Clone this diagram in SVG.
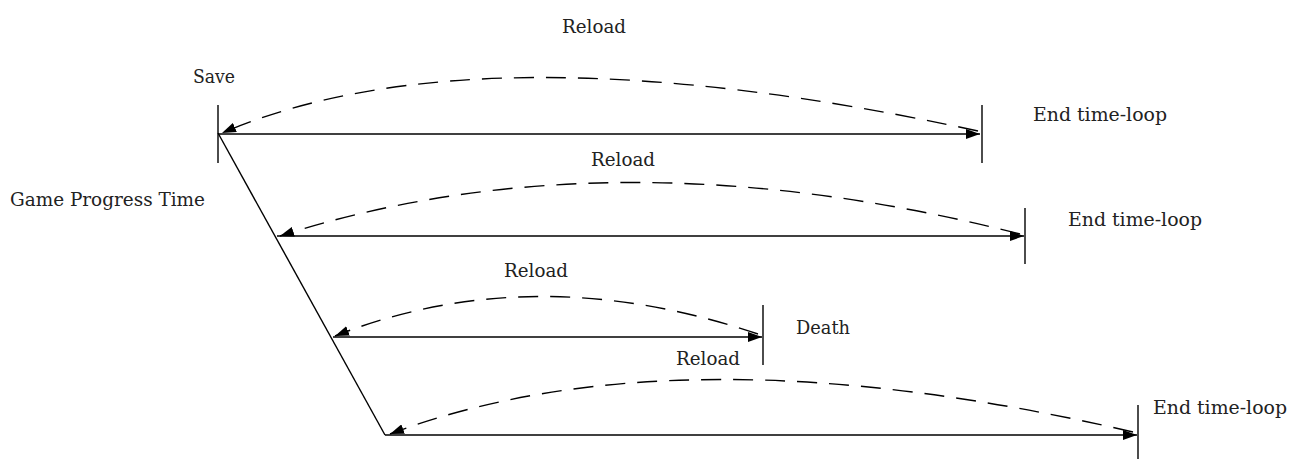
<svg xmlns="http://www.w3.org/2000/svg" width="1297" height="459" viewBox="0 0 1297 459">
<style>
.t{font-family:"DejaVu Serif","Liberation Serif",serif;font-size:18px;fill:#222}
.s{stroke:#000;stroke-width:1.4;fill:none}
.d{stroke:#000;stroke-width:1.4;fill:none;stroke-dasharray:20 12}
</style>
<defs>
<marker id="a" viewBox="0 0 14 10" refX="14" refY="5" markerWidth="14" markerHeight="10" markerUnits="userSpaceOnUse" orient="auto">
<path d="M0,0 L14,5 L0,10 Z" fill="#000"/>
</marker>
</defs>
<g id="connectors">
<path class="s" d="M218,133 L385,435"/>
<path class="s" d="M218,105 V163"/>
<path class="s" d="M218,134 H980" marker-end="url(#a)"/>
<path class="s" d="M982,105 V163"/>
<path class="d" d="M978,131 Q479,23 222,133" marker-end="url(#a)"/>
<path class="s" d="M277,236 H1024" marker-end="url(#a)"/>
<path class="s" d="M1025,208 V264"/>
<path class="d" d="M1020,234 Q610,130 280,236" marker-end="url(#a)"/>
<path class="s" d="M333,337 H762" marker-end="url(#a)"/>
<path class="s" d="M763,305 V365"/>
<path class="d" d="M758,334 Q532,258 335,336" marker-end="url(#a)"/>
<path class="s" d="M385,435 H1137" marker-end="url(#a)"/>
<path class="s" d="M1138,405 V460"/>
<path class="d" d="M1133,432 Q677,326 390,434" marker-end="url(#a)"/>
</g>
<g id="labels">
<text class="t" x="594" y="33" text-anchor="middle" textLength="64" lengthAdjust="spacingAndGlyphs">Reload</text>
<text class="t" x="193" y="83" textLength="42" lengthAdjust="spacingAndGlyphs">Save</text>
<text class="t" x="1033" y="121" textLength="134" lengthAdjust="spacingAndGlyphs">End time-loop</text>
<text class="t" x="623" y="166" text-anchor="middle" textLength="64" lengthAdjust="spacingAndGlyphs">Reload</text>
<text class="t" x="10" y="206" textLength="195" lengthAdjust="spacingAndGlyphs">Game Progress Time</text>
<text class="t" x="1068" y="226" textLength="134" lengthAdjust="spacingAndGlyphs">End time-loop</text>
<text class="t" x="536" y="277" text-anchor="middle" textLength="64" lengthAdjust="spacingAndGlyphs">Reload</text>
<text class="t" x="796" y="334" textLength="54" lengthAdjust="spacingAndGlyphs">Death</text>
<text class="t" x="708" y="365" text-anchor="middle" textLength="64" lengthAdjust="spacingAndGlyphs">Reload</text>
<text class="t" x="1153" y="414" textLength="134" lengthAdjust="spacingAndGlyphs">End time-loop</text>
</g>
</svg>
